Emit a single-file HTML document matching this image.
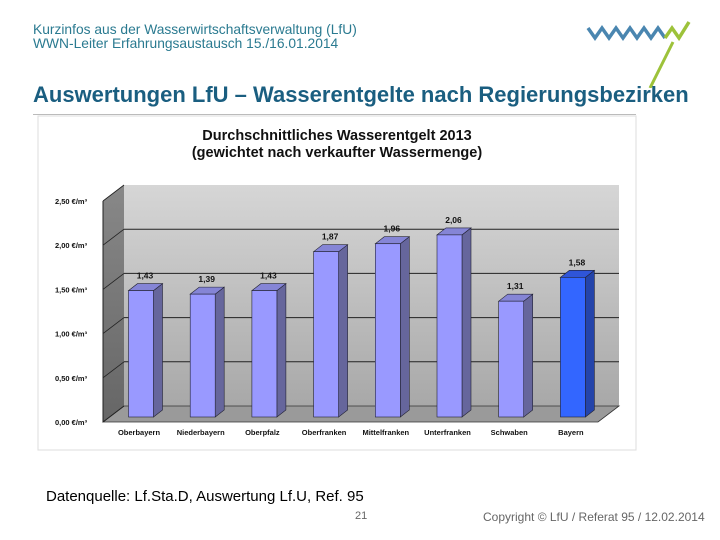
<!DOCTYPE html>
<html><head><meta charset="utf-8"><style>
body{margin:0;width:720px;height:540px;background:#fff;position:relative;font-family:"Liberation Sans",sans-serif;overflow:hidden}
.t{position:absolute;white-space:nowrap}
</style></head><body>
<div class="t" style="left:33px;top:23px;font-size:13.8px;color:#2a7a90;line-height:14px">Kurzinfos aus der Wasserwirtschaftsverwaltung (LfU)<br>WWN-Leiter Erfahrungsaustausch 15./16.01.2014</div>
<svg style="position:absolute;left:585px;top:18px" width="110" height="70" viewBox="0 0 110 70">
<polyline points="3,10 10,20 17,10 24,20 31,10 38,20 45,10 52,20 59,10 66,20 73,10 80,20" fill="none" stroke="#4a86b0" stroke-width="3.5"/>
<polyline points="80,20 87,10 94,20 104,4" fill="none" stroke="#9dc23a" stroke-width="3.5"/>
<line x1="88" y1="24" x2="65" y2="70" stroke="#9dc23a" stroke-width="3"/>
</svg>
<div class="t" style="left:33px;top:82px;font-size:22px;font-weight:bold;color:#1a5e80">Auswertungen LfU – Wasserentgelte nach Regierungsbezirken</div>
<div style="position:absolute;left:33px;top:114px;width:603px;height:1px;background:#bbb"></div>
<svg id="chart" style="position:absolute;left:0;top:0" width="720" height="540"></svg>
<div class="t" style="left:46px;top:488px;font-size:15px;color:#000">Datenquelle: Lf.Sta.D, Auswertung Lf.U, Ref. 95</div>
<div class="t" style="left:355px;top:510px;font-size:11px;color:#666">21</div>
<div class="t" style="left:483px;top:510px;font-size:12px;color:#666">Copyright © LfU / Referat 95 / 12.02.2014</div>
<script>
const categories=["Oberbayern","Niederbayern","Oberpfalz","Oberfranken","Mittelfranken","Unterfranken","Schwaben","Bayern"];
const values=[1.43,1.39,1.43,1.87,1.96,2.06,1.31,1.58];
const valueLabels=["1,43","1,39","1,43","1,87","1,96","2,06","1,31","1,58"];
const ticks=[0,0.5,1,1.5,2,2.5];
const tickLabels=["0,00 €/m³","0,50 €/m³","1,00 €/m³","1,50 €/m³","2,00 €/m³","2,50 €/m³"];
const NS="http://www.w3.org/2000/svg",svg=document.getElementById('chart');
function mk(t,a,p){const e=document.createElementNS(NS,t);for(const k in a)e.setAttribute(k,a[k]);(p||svg).appendChild(e);return e;}
const X0=103,X1=598,DX=21,DY=16,Y0=422,PX=88.4;
const yF=v=>Y0-v*PX, yB=v=>Y0-DY-v*PX;
const xc=i=>141+i*61.7;
const defs=mk('defs',{});
const g1=mk('linearGradient',{id:'bw',x1:0,y1:0,x2:0,y2:1},defs);
mk('stop',{offset:0,'stop-color':'#d6d6d6'},g1);mk('stop',{offset:1,'stop-color':'#a8a8a8'},g1);
const g2=mk('linearGradient',{id:'sw',x1:0,y1:0,x2:0,y2:1},defs);
mk('stop',{offset:0,'stop-color':'#888'},g2);mk('stop',{offset:1,'stop-color':'#666'},g2);
let e;
e=mk('rect',{x:38,y:116,width:598,height:334,fill:'#fff',stroke:'#ddd'});

e=mk('text',{x:337,y:140,'text-anchor':'middle','font-size':14.5,'font-weight':'bold',fill:'#111'});e.textContent='Durchschnittliches Wasserentgelt 2013';

e=mk('text',{x:337,y:157,'text-anchor':'middle','font-size':14.5,'font-weight':'bold',fill:'#111'});e.textContent='(gewichtet nach verkaufter Wassermenge)';

e=mk('rect',{x:X0+DX,y:yB(2.5),width:X1-X0,height:2.5*PX,fill:'url(#bw)'});

e=mk('polygon',{points:`${X0},${yF(2.5)} ${X0+DX},${yB(2.5)} ${X0+DX},${yB(0)} ${X0},${yF(0)}`,fill:'url(#sw)'});

e=mk('polygon',{points:`${X0},${yF(0)} ${X0+DX},${yB(0)} ${X1+DX},${yB(0)} ${X1},${yF(0)}`,fill:'#9a9a9a',stroke:'#333','stroke-width':0.8});

ticks.forEach((t,i)=>{
 if(t>0&&t<2.5){e=mk('line',{x1:X0+DX,x2:X1+DX,y1:yB(t),y2:yB(t),stroke:'#222','stroke-width':1});
 }
 e=mk('line',{x1:X0,y1:yF(t),x2:X0+DX,y2:yB(t),stroke:'#222','stroke-width':0.8});
 
 e=mk('text',{x:55,y:yF(t)+3,'font-size':7.5,'font-weight':'bold',fill:'#111'});e.textContent=tickLabels[i];
 
});
e=mk('line',{x1:X0,y1:yF(0),x2:X0,y2:yF(2.5),stroke:'#222'});

const BW=25,BD=9,BDY=7,YB0=417;
values.forEach((v,i)=>{
 const x=xc(i)-BW/2,yt=YB0-v*PX,last=i===values.length-1;
 const f=last?'#3366ff':'#9999ff',s=last?'#2444aa':'#66669c',tp=last?'#2f55d8':'#8585d6';
 const g=mk('g',{});
 
 mk('polygon',{points:`${x+BW},${yt} ${x+BW+BD},${yt-BDY} ${x+BW+BD},${YB0-BDY} ${x+BW},${YB0}`,fill:s,stroke:'#223','stroke-width':0.6},g);
 mk('polygon',{points:`${x},${yt} ${x+BD},${yt-BDY} ${x+BW+BD},${yt-BDY} ${x+BW},${yt}`,fill:tp,stroke:'#223','stroke-width':0.6},g);
 mk('rect',{x:x,y:yt,width:BW,height:v*PX,fill:f,stroke:'#223','stroke-width':0.6},g);
 e=mk('text',{x:xc(i)+4,y:yt-12,'text-anchor':'middle','font-size':8.5,'font-weight':'bold',fill:'#111'});e.textContent=valueLabels[i];
 
 e=mk('text',{x:xc(i)-2,y:435,'text-anchor':'middle','font-size':7.5,'font-weight':'bold',fill:'#111'});e.textContent=categories[i];
 
});
</script>
</body></html>
